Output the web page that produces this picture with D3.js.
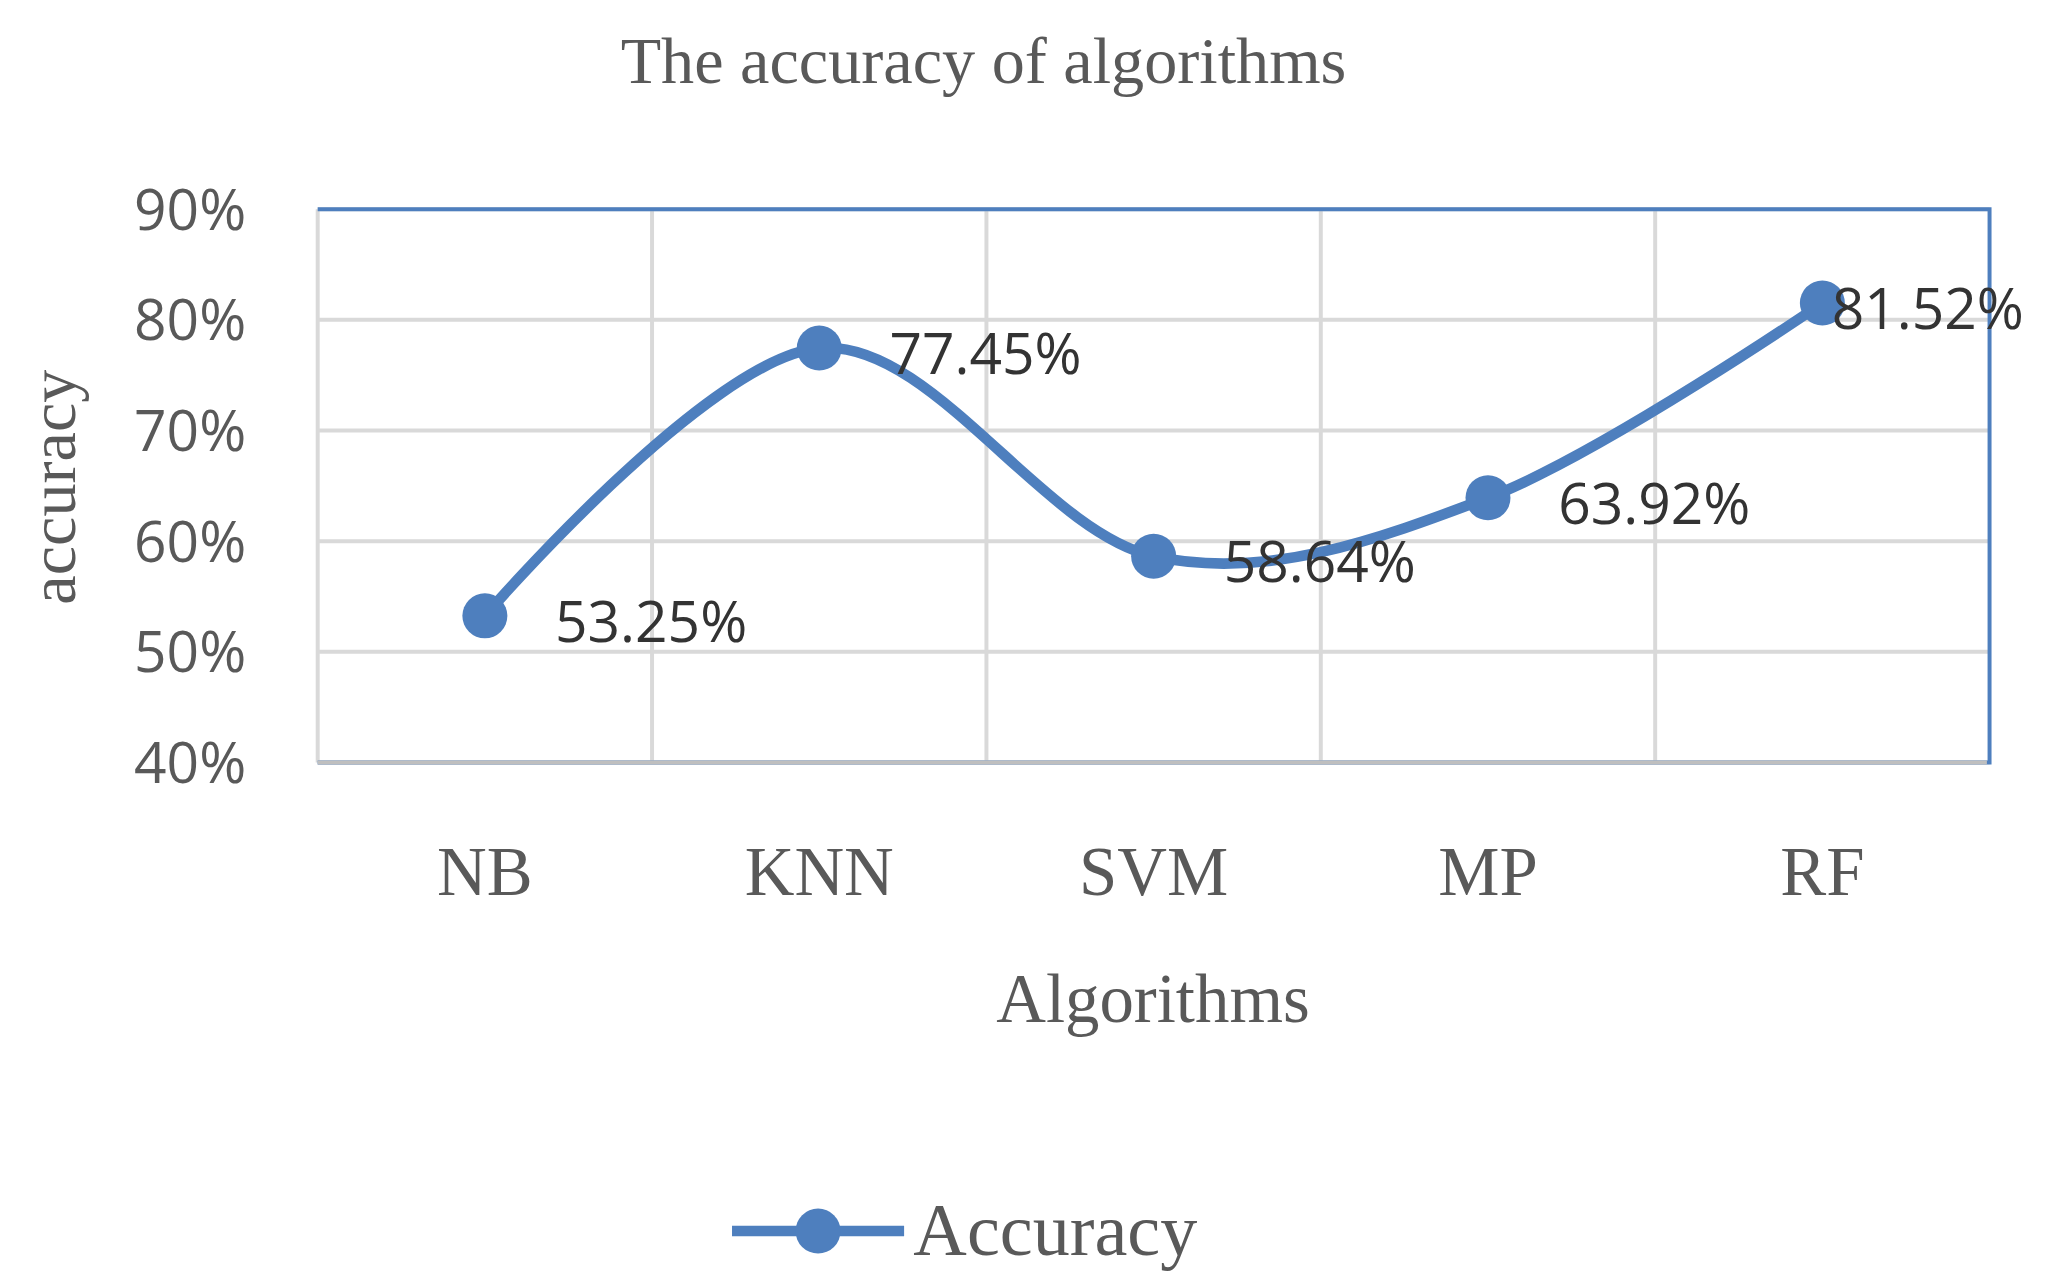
<!DOCTYPE html>
<html><head><meta charset="utf-8">
<script src="https://cdn.jsdelivr.net/npm/d3@7"></script>
<style>body{margin:0;background:#fff}</style></head>
<body><svg id="c"></svg>
<script>
const categories = ['NB', 'KNN', 'SVM', 'MP', 'RF'];
const accuracy = [53.25, 77.45, 58.64, 63.92, 81.52];
const yTicks = [40, 50, 60, 70, 80, 90];

const W = 1560, H = 973;
const svg = d3.select('#c').attr('width', 2065).attr('height', 1288)
    .attr('viewBox', `0 0 ${W} ${H}`);
const blue = '#4e7fbe', grey = '#595959', serif = 'Liberation Serif, DejaVu Serif, serif', sans = 'Open Sans, Noto Sans, sans-serif';
const pLeft = 240, pRight = 1503, pTop = 158, pBottom = 576;

const x = d3.scaleBand().domain(categories).range([pLeft, pRight]);
const y = d3.scaleLinear().domain([40, 90]).range([pBottom, pTop]);
const cx = d => x(d) + x.bandwidth() / 2;

// grid
svg.append('g').selectAll('line').data(yTicks).join('line')
    .attr('x1', pLeft).attr('x2', pRight).attr('y1', d => y(d)).attr('y2', d => y(d))
    .attr('stroke', '#d9d9d9').attr('stroke-width', 3);
svg.append('g').selectAll('line').data(categories.slice(1)).join('line')
    .attr('x1', d => x(d)).attr('x2', d => x(d)).attr('y1', pTop).attr('y2', pBottom)
    .attr('stroke', '#d9d9d9').attr('stroke-width', 3);
svg.append('line').attr('x1', pLeft).attr('x2', pLeft).attr('y1', pTop).attr('y2', pBottom)
    .attr('stroke', '#d9d9d9').attr('stroke-width', 3);
svg.append('path').attr('d', `M${pLeft},${pTop}H${pRight}V${pBottom}H${pLeft}`)
    .attr('fill', 'none').attr('stroke', blue).attr('stroke-width', 3);
svg.append('line').attr('x1', pLeft).attr('x2', pRight - 2).attr('y1', pBottom).attr('y2', pBottom)
    .attr('stroke', '#bfbfbf').attr('stroke-width', 3);

// y ticks
svg.append('g').selectAll('text').data(yTicks).join('text')
    .attr('x', 186).attr('y', d => y(d)).attr('dy', '0.36em').attr('text-anchor', 'end')
    .attr('font-family', sans).attr('font-size', 43).attr('fill', grey).text(d => d + '%');
// x labels
svg.append('g').selectAll('text').data(categories).join('text')
    .attr('x', cx).attr('y', 676).attr('text-anchor', 'middle')
    .attr('font-family', serif).attr('font-size', 52).attr('fill', grey).text(d => d);

svg.append('text').attr('x', 743).attr('y', 63).attr('text-anchor', 'middle')
    .attr('font-family', serif).attr('font-size', 50).attr('fill', grey).text('The accuracy of algorithms');
svg.append('text').attr('x', 871).attr('y', 772).attr('text-anchor', 'middle')
    .attr('font-family', serif).attr('font-size', 52).attr('fill', grey).text('Algorithms');
svg.append('text').attr('transform', 'translate(57,368) rotate(-90)').attr('text-anchor', 'middle')
    .attr('font-family', serif).attr('font-size', 50).attr('fill', grey).text('accuracy');

// series
const pts = categories.map((c, i) => [cx(c), y(accuracy[i])]);
svg.append('path').attr('d', d3.line().curve(d3.curveCardinal.tension(0))(pts))
    .attr('fill', 'none').attr('stroke', blue).attr('stroke-width', 8);
svg.append('g').selectAll('circle').data(pts).join('circle')
    .attr('cx', d => d[0]).attr('cy', d => d[1]).attr('r', 17).attr('fill', blue);
svg.append('g').selectAll('text').data(pts).join('text')
    .attr('x', (d, i) => d[0] + (i === pts.length - 1 ? 7 : 53)).attr('y', d => d[1] + 4)
    .attr('dy', '0.36em').attr('font-family', sans).attr('font-size', 43).attr('fill', '#333')
    .text((d, i) => accuracy[i].toFixed(2) + '%');

// legend
svg.append('line').attr('x1', 553).attr('x2', 683).attr('y1', 930).attr('y2', 930)
    .attr('stroke', blue).attr('stroke-width', 8);
svg.append('circle').attr('cx', 618).attr('cy', 930).attr('r', 17).attr('fill', blue);
svg.append('text').attr('x', 690).attr('y', 948).attr('font-family', serif).attr('font-size', 56)
    .attr('fill', grey).text('Accuracy');
</script></body></html>
